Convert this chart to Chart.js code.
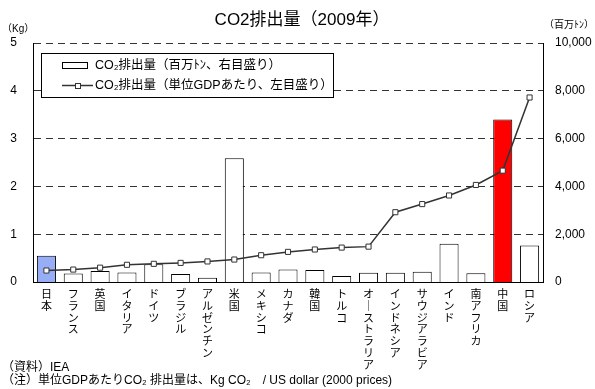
<!DOCTYPE html>
<html>
<head>
<meta charset="utf-8">
<script src="https://cdn.jsdelivr.net/npm/chart.js@4/dist/chart.umd.min.js"></script>
<style>
html,body{margin:0;padding:0;background:#fff;}
#wrap{width:595px;height:389px;position:relative;}
</style>
</head>
<body>
<div id="wrap"><canvas id="c" width="595" height="389"></canvas></div>
<script>
const categories = ['日本','フランス','英国','イタリア','ドイツ','ブラジル','アルゼンチン','米国','メキシコ','カナダ','韓国','トルコ','オーストラリア','インドネシア','サウジアラビア','インド','南アフリカ','中国','ロシア'];
// CO2 emissions (million tonnes, right axis)
const emissions = [1100, 360, 460, 400, 740, 335, 180, 5180, 400, 525, 500, 250, 390, 390, 430, 1600, 365, 6800, 1530];
// CO2 per unit GDP (kg CO2 / US dollar 2000 prices, left axis)
const intensity = [0.24, 0.26, 0.30, 0.36, 0.38, 0.40, 0.43, 0.47, 0.56, 0.63, 0.68, 0.72, 0.74, 1.46, 1.63, 1.81, 2.03, 2.33, 3.86];
const leftTicks = [0, 1, 2, 3, 4, 5];
const rightTicks = ['0', '2,000', '4,000', '6,000', '8,000', '10,000'];

const JP = "'Liberation Sans', 'Noto Sans CJK JP', sans-serif";
const NUM = "'Liberation Sans', Arial, sans-serif";

const barColors = categories.map(c => c === '日本' ? '#97aef7' : (c === '中国' ? '#ff0000' : '#ffffff'));

const extras = {
  id: 'extras',
  afterDraw(chart) {
    const ctx = chart.ctx;
    ctx.save();
    ctx.fillStyle = '#000';
    ctx.textBaseline = 'middle';
    // title
    ctx.font = '17px ' + JP;
    ctx.textAlign = 'center';
    ctx.fillText('CO2排出量（2009年）', 302, 20);
    // units
    ctx.font = '10px ' + JP;
    ctx.textAlign = 'left';
    ctx.fillText('（Kg）', 2, 29);
    ctx.fillText('（百万ﾄﾝ）', 544, 25);
    // notes
    ctx.font = '12px ' + JP;
    ctx.fillText('（資料）IEA', 2, 368);
    ctx.fillText('（注）単位GDPあたりCO₂ 排出量は、Kg CO₂　/ US dollar (2000 prices)', 2, 381);
    // legend
    ctx.fillStyle = '#fff';
    ctx.fillRect(41, 53, 292, 44);
    ctx.strokeStyle = '#000';
    ctx.lineWidth = 1;
    ctx.strokeRect(41.5, 53.5, 292, 44);
    ctx.fillStyle = '#fff';
    ctx.fillRect(62.5, 62.5, 25, 6);
    ctx.strokeRect(62.5, 62.5, 25, 6);
    ctx.strokeStyle = '#333';
    ctx.lineWidth = 1.5;
    ctx.beginPath();
    ctx.moveTo(62, 85.5);
    ctx.lineTo(93, 85.5);
    ctx.stroke();
    ctx.fillStyle = '#fff';
    ctx.lineWidth = 1;
    ctx.fillRect(75, 83, 5, 5);
    ctx.strokeRect(75.5, 83.5, 5, 5);
    ctx.fillStyle = '#000';
    ctx.font = '12.5px ' + JP;
    ctx.fillText('CO₂排出量（百万ﾄﾝ、右目盛り）', 95, 65.5);
    ctx.fillText('CO₂排出量（単位GDPあたり、左目盛り）', 95, 85.5);
    ctx.restore();
  }
};

new Chart(document.getElementById('c'), {
  data: {
    labels: categories,
    datasets: [
      {
        type: 'line',
        label: 'CO₂排出量（単位GDPあたり、左目盛り）',
        data: intensity,
        yAxisID: 'y',
        borderColor: '#333',
        borderWidth: 1.5,
        pointStyle: 'rect',
        pointRadius: 3.6,
        pointBackgroundColor: '#fff',
        pointBorderColor: '#333',
        pointBorderWidth: 1,
        tension: 0,
        order: 0
      },
      {
        type: 'bar',
        label: 'CO₂排出量（百万ﾄﾝ、右目盛り）',
        data: emissions,
        yAxisID: 'y2',
        backgroundColor: barColors,
        borderColor: '#000',
        borderWidth: 1,
        barPercentage: 0.71,
        categoryPercentage: 1,
        order: 1
      }
    ]
  },
  options: {
    responsive: false,
    animation: false,
    layout: { padding: { top: 43, left: 0, right: 0, bottom: 0 } },
    plugins: { legend: { display: false }, title: { display: false }, tooltip: { enabled: false } },
    scales: {
      x: {
        offset: true,
        grid: { display: false, drawTicks: false },
        border: { display: true, color: '#000', width: 1 },
        ticks: {
          autoSkip: false, maxRotation: 0, minRotation: 0, padding: 6,
          color: '#000',
          font: { family: "'Noto Sans CJK JP', sans-serif", size: 11, lineHeight: 1.07 },
          callback: function(v, i) {
            return categories[i].split('').map(ch => ch === 'ー' ? '｜' : ch);
          }
        },
        afterFit: s => { s.height = 107; }
      },
      y: {
        position: 'left',
        min: 0, max: 5,
        afterBuildTicks: s => { s.ticks = leftTicks.map(v => ({ value: v })); },
        grid: { color: '#333', lineWidth: 1, drawTicks: false },
        border: { display: true, color: '#000', width: 1, dash: [7, 5] },
        ticks: { color: '#000', padding: 16, font: { family: NUM, size: 12 } },
        afterFit: s => { s.width = 33; }
      },
      y2: {
        position: 'right',
        min: 0, max: 10000,
        afterBuildTicks: s => { s.ticks = rightTicks.map((t, i) => ({ value: i * 2000 })); },
        grid: { display: false, drawTicks: false },
        border: { display: true, color: '#000', width: 1 },
        ticks: { color: '#000', padding: 12, font: { family: NUM, size: 12 },
          callback: (v, i) => rightTicks[i] },
        afterFit: s => { s.width = 52; }
      }
    }
  },
  plugins: [extras]
});
</script>
</body>
</html>
